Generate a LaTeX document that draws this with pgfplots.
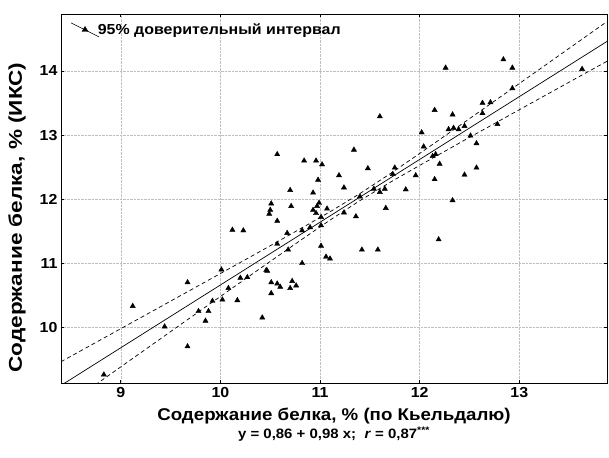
\documentclass[border=0pt]{standalone}
\usepackage{fontspec}
\setmainfont[FakeStretch=1.1]{Liberation Sans}
\newfontfamily\ylabfont[FakeStretch=1.22]{Liberation Sans}
\usepackage{pgfplots}
\usepackage{pgfplotstable}
\pgfplotsset{compat=1.18}
\pgfplotstableread{
x y
8.83 9.26
9.12 10.33
9.44 10.01
9.67 10.70
9.67 9.70
9.78 10.25
9.85 10.10
9.88 10.25
9.92 10.41
10.01 10.90
10.02 10.43
10.08 10.61
10.12 11.52
10.17 10.42
10.20 10.77
10.23 11.51
10.27 10.78
10.42 10.15
10.46 10.89
10.47 10.88
10.49 11.77
10.50 11.83
10.51 11.93
10.51 10.70
10.51 10.53
10.57 12.70
10.57 11.66
10.57 11.30
10.57 10.68
10.60 10.63
10.67 11.47
10.68 11.21
10.70 12.14
10.70 10.61
10.71 11.89
10.72 10.72
10.76 10.65
10.82 11.51
10.82 11.00
10.84 12.60
10.90 11.56
10.93 12.10
10.93 11.83
10.96 12.60
10.96 11.78
10.97 11.89
10.98 12.30
10.99 11.94
11.01 11.72
11.01 11.59
11.01 11.27
11.02 12.54
11.06 11.10
11.07 11.85
11.10 11.07
11.19 12.37
11.24 12.18
11.24 11.79
11.34 12.77
11.36 11.73
11.40 12.04
11.42 11.21
11.48 12.48
11.54 12.16
11.58 11.21
11.60 13.29
11.60 12.11
11.65 12.16
11.66 11.86
11.73 12.39
11.75 12.49
11.86 12.15
11.96 12.37
12.02 13.04
12.04 12.82
12.13 12.67
12.15 13.39
12.15 12.31
12.16 12.70
12.19 11.37
12.20 12.55
12.26 14.05
12.29 13.09
12.33 11.98
12.33 13.32
12.34 13.11
12.39 13.09
12.45 13.14
12.45 12.38
12.51 12.99
12.57 12.87
12.57 12.49
12.63 13.50
12.63 13.34
12.71 13.51
12.78 13.17
12.84 14.18
12.93 14.05
12.93 13.73
13.63 14.03
}\pts
\pgfplotstableread{
x reg up lo
8.40 9.092 9.462 8.722
8.80 9.484 9.806 9.162
9.20 9.876 10.150 9.602
9.60 10.268 10.494 10.042
10.00 10.660 10.839 10.481
10.40 11.052 11.185 10.919
10.80 11.444 11.535 11.353
11.10 11.738 11.803 11.673
11.40 12.032 12.087 11.977
11.70 12.326 12.393 12.259
12.00 12.620 12.713 12.527
12.40 13.012 13.147 12.877
12.80 13.404 13.585 13.223
13.20 13.796 14.024 13.568
13.60 14.188 14.464 13.912
13.88 14.462 14.772 14.152
}\band
\begin{document}
\begin{tikzpicture}
\begin{axis}[
  scale only axis, width=546pt, height=369pt,
  xmin=8.4, xmax=13.88, ymin=9.13, ymax=14.89,
  xtick={9,10,11,12,13}, ytick={10,11,12,13,14},
  grid=major, grid style={densely dotted, gray!50, line width=0.5pt},
  axis line style={line width=0.9pt},
  tick align=inside, major tick length=3pt, tick style={black, line width=0.6pt},
  /pgf/number format/assume math mode=true,
  ticklabel style={font=\bfseries\fontsize{14.5}{14.5}\selectfont},
  xticklabel style={yshift=-1pt},
  xlabel={Содержание белка, \% (по Кьельдалю)\\[0pt]{\fontsize{13.6}{15}\selectfont y = 0,86 + 0,98 x;\ \ \textit{r} = 0,87\textsuperscript{***}}},
  xlabel style={at={(axis description cs:0.5,-0.058)}, anchor=north, align=center, font=\bfseries\fontsize{17}{18}\selectfont},
  ylabel={Содержание белка, \% (ИКС)},
  ylabel style={at={(axis description cs:-0.058,0.4485)}, anchor=south, font=\ylabfont\bfseries\fontsize{18.5}{19}\selectfont},
  legend style={at={(0.012,0.985)}, anchor=north west, draw=none, fill=none, font=\bfseries\fontsize{14.5}{16}\selectfont},
  legend cell align=left,
  clip=true,
]
\addlegendimage{legend image code/.code={
  \draw[black, line width=0.6pt] (0pt,7pt) -- (28pt,-7pt);
  \fill[black] (11pt,-1.6pt) -- (17pt,-1.6pt) -- (14pt,3.4pt) -- cycle;}}
\addlegendentry{\hspace*{-3.5pt}95\% доверительный интервал}
\addplot[only marks, mark=triangle*, mark size=3pt, black, forget plot] table[x=x, y=y] {\pts};
\addplot[black, line width=0.7pt, forget plot] table[x=x, y=reg] {\band};
\addplot[black, line width=0.7pt, dash pattern=on 4pt off 3pt, forget plot] table[x=x, y=up] {\band};
\addplot[black, line width=0.7pt, dash pattern=on 4pt off 3pt, forget plot] table[x=x, y=lo] {\band};
\end{axis}
\pgfresetboundingbox
\path[use as bounding box] ([shift={(-61pt,-74pt)}]current axis.south west) rectangle ++(609pt,457pt);
\end{tikzpicture}
\end{document}
